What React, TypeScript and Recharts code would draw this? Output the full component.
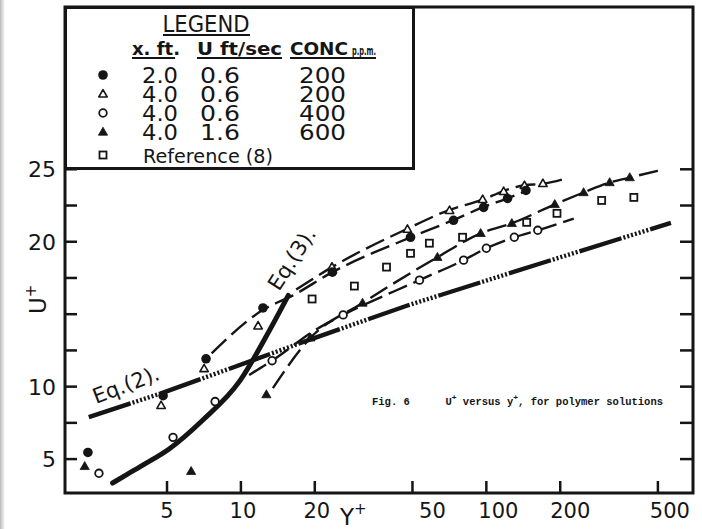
import React from "react";
import { ScatterChart, Scatter, XAxis, YAxis, ReferenceArea } from "recharts";

const W = 702;
const H = 529;
const INK = "#151515";
const FONT = "'DejaVu Sans', Verdana, sans-serif";
const MONO = "'Liberation Mono', 'DejaVu Sans Mono', monospace";

// plot frame in page pixels (used by the hand-drawn ticks)
const PLOT = { left: 65, right: 692, top: 7, bottom: 493 };

// measured points, [y+, U+]
const filledCircles = [
  [2.38, 5.46], [4.82, 9.38], [7.21, 11.92], [12.3, 15.43], [23.6, 17.9],
  [49.1, 20.31], [73.5, 21.48], [97.5, 22.37], [122, 22.99], [145, 23.54],
];
const openTriangles = [
  [4.73, 8.7], [7.08, 11.24], [11.75, 14.19], [23.5, 18.25], [47.7, 20.86],
  [70.8, 22.16], [96.6, 22.92], [117.6, 23.47], [143, 23.88], [170, 24.02],
];
const openCircles = [
  [2.64, 4.02], [5.29, 6.5], [7.85, 8.97], [13.4, 11.79], [26.1, 14.95],
  [53.4, 17.35], [80.8, 18.73], [100, 19.55], [130, 20.31], [162, 20.79],
];
const filledTriangles = [
  [2.31, 4.5], [6.27, 4.16], [12.7, 9.45], [19.2, 13.37], [31.3, 15.77], [63.2, 18.93],
  [94.8, 20.58], [127, 21.27], [190, 22.58], [249, 23.4], [318, 24.09], [384, 24.43],
];
const refSquares = [
  [19.5, 16.05], [29, 16.94], [39.2, 18.25], [49.1, 19.2], [58.6, 19.9],
  [80, 20.31], [146, 21.34], [194, 21.96], [295, 22.85], [399, 23.06],
];

// dashed curves drawn through each run
const filledCircleFit = [
  [7.6, 12.3], [12.3, 15.3], [16.3, 16.3], [23.6, 17.9], [49.1, 20.3],
  [73.5, 21.5], [97.5, 22.4], [122, 23.0], [145, 23.5],
];
const openTriangleFit = [
  [16.8, 16.7], [23.5, 18.25], [47.7, 20.9], [70.8, 22.2], [96.6, 22.9],
  [117.6, 23.5], [143, 23.9], [170, 24.0], [215, 24.4],
];
const openCircleFit = [
  [10.8, 10.8], [13.4, 11.8], [20.5, 14.0], [26.1, 14.95], [53.4, 17.35],
  [80.8, 18.73], [100, 19.55], [130, 20.31], [162, 20.79], [227, 21.6],
];
const filledTriangleFit = [
  [13.5, 9.9], [19.2, 13.37], [31.3, 15.77], [63.2, 18.93], [94.8, 20.58],
  [127, 21.27], [190, 22.58], [249, 23.4], [318, 24.09], [384, 24.43], [500, 24.9],
];

// Eq.(2) log law and Eq.(3) sublayer curve
const eq2Line = [[2.4, 7.9], [4.85, 9.6], [19.5, 13.3], [47.7, 15.6], [166, 18.5], [565, 21.3]];
const eq3Curve = [
  [3.0, 3.35], [3.44, 3.95], [4.0, 4.6], [5.1, 5.7], [7.0, 7.7],
  [9.9, 10.4], [12.8, 13.6], [15.6, 16.3],
];

const xTicks = [5, 10, 20, 50, 100, 200, 500];
const yTicks = [5, 7.5, 10, 12.5, 15, 17.5, 20, 22.5, 25];
const yLabelled = [5, 10, 20, 25];
const X_DOMAIN = [1.92, 695];
const Y_DOMAIN = [2.66, 36.2];

// hand lettering sits a little right of some ticks
const xLabelShift: Record<number, number> = { 5: 0, 10: 2, 20: 2, 50: 20, 100: 12, 200: 10, 500: 12 };

// legend table columns
const legendKinds = ["filledCircle", "openTriangle", "openCircle", "filledTriangle"];
const legendXft = ["2.0", "4.0", "4.0", "4.0"];
const legendUfps = ["0.6", "0.6", "0.6", "1.6"];
const legendConc = ["200", "200", "400", "600"];

const toXY = (pts: number[][]) => pts.map(([x, y]) => ({ x, y }));

const Marker = ({ kind, cx, cy }: { kind: string; cx: number; cy: number }) => {
  switch (kind) {
    case "filledCircle":
      return <circle cx={cx} cy={cy} r={4.8} fill={INK} />;
    case "openCircle":
      return <circle cx={cx} cy={cy} r={3.8} fill="#fff" stroke={INK} strokeWidth={1.8} />;
    case "openTriangle":
      return (
        <path
          d={`M${cx},${cy - 4.4}L${cx + 4.2},${cy + 3}L${cx - 4.2},${cy + 3}Z`}
          fill="#fff" stroke={INK} strokeWidth={1.6} strokeLinejoin="round"
        />
      );
    case "filledTriangle":
      return (
        <path
          d={`M${cx},${cy - 4.8}L${cx + 4.6},${cy + 3.2}L${cx - 4.6},${cy + 3.2}Z`}
          fill={INK} stroke={INK} strokeWidth={0.8} strokeLinejoin="round"
        />
      );
    case "square":
      return <rect x={cx - 3.5} y={cy - 3.5} width={7} height={7} fill="#fff" stroke={INK} strokeWidth={1.8} />;
  }
  return null;
};

const markerShape = (kind: string) => (p: any) => <Marker kind={kind} cx={p.cx} cy={p.cy} />;
const noShape = () => <g />;

const XTick = ({ x, payload }: any) => (
  <g>
    <line x1={x} x2={x} y1={PLOT.bottom} y2={PLOT.bottom - 12} stroke={INK} strokeWidth={2.5} />
    <text
      x={x + (xLabelShift[payload.value] || 0)} y={PLOT.bottom + 25}
      textAnchor="middle" fontSize={21} fontFamily={FONT} fill={INK}
    >
      {payload.value}
    </text>
  </g>
);

const YTick = ({ y, payload }: any) => (
  <g>
    <line x1={PLOT.left} x2={PLOT.left + 12} y1={y} y2={y} stroke={INK} strokeWidth={2.5} />
    <line x1={PLOT.right - 12} x2={PLOT.right} y1={y} y2={y} stroke={INK} strokeWidth={2.5} />
    {yLabelled.includes(payload.value) && (
      <text x={56} y={y + 8} textAnchor="end" fontSize={22} fontFamily={FONT} fill={INK}>
        {payload.value}
      </text>
    )}
  </g>
);

const ROW0 = 70;
const ROW_STEP = 19;

// one text per column, rows stacked as tspans
const LegendColumn = ({ x, values, width }: { x: number; values: string[]; width: number }) => (
  <text fontSize={21}>
    {values.map((v, i) => (
      <tspan key={i} x={x} y={ROW0 + i * ROW_STEP + 8} textLength={width} lengthAdjust="spacingAndGlyphs">{v}</tspan>
    ))}
  </text>
);

const LegendBox = () => (
  <svg
    width={351} height={165}
    style={{ position: "absolute", left: 64, top: 5 }}
    fontFamily={FONT} fill={INK}
  >
    <rect x={1.5} y={2.5} width={348} height={161} fill="#fff" stroke={INK} strokeWidth={3} />
    <text x={142} y={27} textAnchor="middle" fontSize={23} textLength={87} lengthAdjust="spacingAndGlyphs">LEGEND</text>
    <line x1={99} x2={186} y1={30} y2={30} stroke={INK} strokeWidth={2} />

    <text x={68} y={50} fontSize={18} fontWeight="bold" textLength={48} lengthAdjust="spacingAndGlyphs">x. ft.</text>
    <line x1={68} x2={111} y1={53} y2={53} stroke={INK} strokeWidth={2} />
    <text x={133} y={50} fontSize={18} fontWeight="bold" textLength={85} lengthAdjust="spacingAndGlyphs">U ft/sec</text>
    <line x1={133} x2={218} y1={53} y2={53} stroke={INK} strokeWidth={2} />
    <text x={226} y={50} fontSize={18} fontWeight="bold" textLength={58} lengthAdjust="spacingAndGlyphs">CONC</text>
    <text x={288} y={50} fontSize={13} fontWeight="bold" textLength={24} lengthAdjust="spacingAndGlyphs">p.p.m.</text>
    <line x1={226} x2={312} y1={53} y2={53} stroke={INK} strokeWidth={2} />

    {legendKinds.map((k, i) => (
      <Marker key={k} kind={k} cx={39} cy={ROW0 + i * ROW_STEP} />
    ))}
    <LegendColumn x={78} values={legendXft} width={36} />
    <LegendColumn x={136} values={legendUfps} width={40} />
    <LegendColumn x={235} values={legendConc} width={47} />

    <Marker kind="square" cx={39} cy={150} />
    <text x={79} y={158} fontSize={20} textLength={130} lengthAdjust="spacingAndGlyphs">Reference (8)</text>
  </svg>
);

const Annotations = () => (
  <svg width={W} height={H} style={{ position: "absolute", left: 0, top: 0, pointerEvents: "none" }} fill={INK}>
    <text x={96} y={404} fontSize={21} fontFamily={FONT} transform="rotate(-21 96 404)">Eq.(2).</text>
    <text x={279} y={292} fontSize={21} fontFamily={FONT} transform="rotate(-57 279 292)">Eq.(3).</text>
    <text x={46} y={314} fontSize={23} fontFamily={FONT} transform="rotate(-90 46 314)">
      U<tspan fontSize={15} dy={-10}>+</tspan>
    </text>
    <text x={340} y={525} fontSize={23} fontFamily={FONT}>
      Y<tspan fontSize={15} dy={-11}>+</tspan>
    </text>
    <text x={372} y={405} fontSize={10.5} fontFamily={MONO} fontWeight="bold">Fig.  6</text>
    <text x={663} y={405} fontSize={10.5} fontFamily={MONO} fontWeight="bold" textAnchor="end">
      U<tspan fontSize={8} dy={-5}>+</tspan>
      <tspan dy={5}> versus y</tspan>
      <tspan fontSize={8} dy={-5}>+</tspan>
      <tspan dy={5}>, for polymer solutions</tspan>
    </text>
  </svg>
);

// solid stretch, then a run of hatch strokes
const eq2Dash = "44 2 2 2 2 2 2 2 2 2 2 2 2 2 2 2";
const fitLine = { stroke: INK, strokeWidth: 2.4, strokeDasharray: "20 7", fill: "none" };

export default function App() {
  return (
    <div style={{ position: "absolute", left: 0, top: 0, width: W, height: H, background: "#fff", overflow: "hidden" }}>
      <div style={{ position: "absolute", left: 0, top: 0, width: 5, height: H, background: "linear-gradient(to right, #b9b9b9, #fff)" }} />
      <ScatterChart
        width={W} height={H}
        margin={{ top: PLOT.top, right: W - PLOT.right - 1, bottom: H - PLOT.bottom - 1, left: PLOT.left - 1 }}
      >
        <XAxis
          dataKey="x" type="number" scale="log" domain={X_DOMAIN} allowDataOverflow
          ticks={xTicks} interval={0} height={1} axisLine={false} tickLine={false} tick={<XTick />}
        />
        <YAxis
          dataKey="y" type="number" domain={Y_DOMAIN} allowDataOverflow
          ticks={yTicks} interval={0} width={1} axisLine={false} tickLine={false} tick={<YTick />}
        />
        <ReferenceArea
          x1={X_DOMAIN[0]} x2={X_DOMAIN[1]} y1={Y_DOMAIN[0]} y2={Y_DOMAIN[1]}
          fill="none" fillOpacity={0} stroke={INK} strokeWidth={3}
        />

        <Scatter
          data={toXY(eq2Line)} shape={noShape} isAnimationActive={false}
          line={{ stroke: INK, strokeWidth: 4.4, strokeDasharray: eq2Dash, fill: "none" }}
        />
        <Scatter
          data={toXY(eq3Curve)} shape={noShape} isAnimationActive={false} lineJointType="monotoneX"
          line={{ stroke: INK, strokeWidth: 5, strokeLinecap: "round", fill: "none" }}
        />
        <Scatter data={toXY(filledCircleFit)} shape={noShape} line={fitLine} lineJointType="monotoneX" isAnimationActive={false} />
        <Scatter data={toXY(openTriangleFit)} shape={noShape} line={fitLine} lineJointType="monotoneX" isAnimationActive={false} />
        <Scatter data={toXY(openCircleFit)} shape={noShape} line={fitLine} lineJointType="monotoneX" isAnimationActive={false} />
        <Scatter data={toXY(filledTriangleFit)} shape={noShape} line={fitLine} lineJointType="monotoneX" isAnimationActive={false} />

        <Scatter data={toXY(refSquares)} shape={markerShape("square")} isAnimationActive={false} />
        <Scatter data={toXY(openCircles)} shape={markerShape("openCircle")} isAnimationActive={false} />
        <Scatter data={toXY(filledTriangles)} shape={markerShape("filledTriangle")} isAnimationActive={false} />
        <Scatter data={toXY(openTriangles)} shape={markerShape("openTriangle")} isAnimationActive={false} />
        <Scatter data={toXY(filledCircles)} shape={markerShape("filledCircle")} isAnimationActive={false} />
      </ScatterChart>
      <Annotations />
      <LegendBox />
    </div>
  );
}
